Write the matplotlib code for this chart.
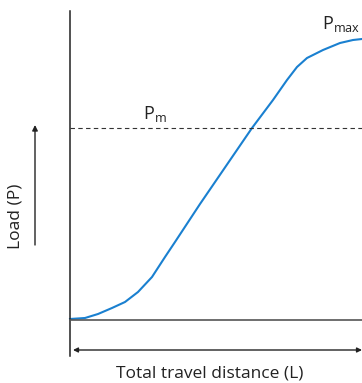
import numpy as np
import matplotlib.pyplot as plt

plt.rcParams['font.family'] = ['Open Sans', 'DejaVu Sans']
plt.rcParams['mathtext.fontset'] = 'custom'
plt.rcParams['mathtext.rm'] = 'Open Sans'

# load curve (arbitrary units)
distance = [0, 15, 28, 42, 55, 68, 82, 95, 105, 130, 182, 203, 217, 227, 237, 253, 270, 283, 292]
load = [1, 2, 6, 12, 18, 28, 43, 63, 78, 116, 192, 220, 240, 253, 262, 270, 277, 280, 281]
p_mean = 192
x_end = 292

fig = plt.figure(figsize=(3.62, 3.83), dpi=100)
ax = fig.add_axes([0, 0, 1, 1])
ax.set_xlim(-70, 292)
ax.set_ylim(-63, 320)
ax.axis('off')

blue = '#1a80d0'
ax.plot(distance, load, color=blue, lw=1.5, solid_joinstyle='round')

# axes lines
ax.plot([0, 0], [-36, 309], color='#222222', lw=1.1)
ax.plot([0, x_end], [0, 0], color='#555555', lw=1.2)
ax.plot([0, x_end], [p_mean, p_mean], color='#333333', lw=0.8, ls=(0, (4, 3)))

# total travel distance double arrow
ax.annotate('', xy=(x_end, -30), xytext=(3, -30),
            arrowprops=dict(arrowstyle='<|-|>', color='#222222', lw=1.0,
                            mutation_scale=7, shrinkA=0, shrinkB=0))
ax.text(140, -53, 'Total travel distance (L)', ha='center', va='center',
        fontsize=12.5, color='#222222')

# load arrow
ax.annotate('', xy=(-35, 195), xytext=(-35, 75),
            arrowprops=dict(arrowstyle='-|>', color='#222222', lw=1.0,
                            mutation_scale=8, shrinkA=0, shrinkB=0))
ax.text(-54, 104, 'Load (P)', rotation=90, ha='center', va='center',
        fontsize=12.5, color='#222222')

ax.text(73, 206, r'$\mathregular{P_{m}}$', ha='left', va='center',
        fontsize=13, color='#222222')
ax.text(252, 296, r'$\mathregular{P_{max}}$', ha='left', va='center',
        fontsize=13, color='#222222')

fig.savefig('out.png', dpi=100)
